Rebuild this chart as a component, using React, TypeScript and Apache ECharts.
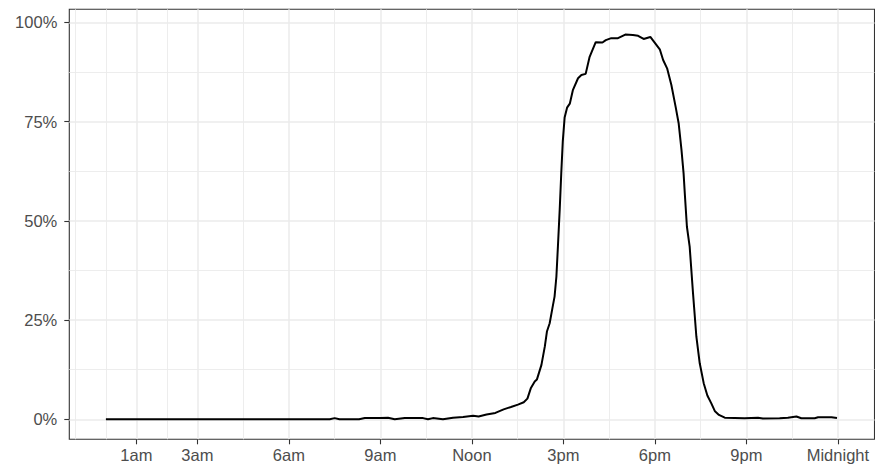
import * as echarts from "echarts";
import { useEffect, useRef } from "react";

// hour of day (0 = midnight) and share of the maximum (0..1)
const hours = [
  0, 3, 6, 7.34, 7.5, 7.66, 8.3, 8.49, 9.0, 9.25, 9.47, 9.8, 10.4, 10.56, 10.72,
  11.05, 11.38, 11.71, 12.04, 12.22, 12.48, 12.77, 13.04, 13.28, 13.51, 13.7,
  13.82, 13.93, 14.06, 14.13, 14.28, 14.39, 14.46, 14.55, 14.64, 14.71, 14.77,
  14.82, 14.88, 14.93, 14.98, 15.04, 15.12, 15.21, 15.31, 15.48, 15.59, 15.73,
  15.86, 16.06, 16.28, 16.39, 16.57, 16.79, 17.03, 17.28, 17.45, 17.63, 17.85,
  18.03, 18.16, 18.27, 18.4, 18.54, 18.68, 18.78, 18.87, 18.94, 18.98, 19.05,
  19.14, 19.25, 19.36, 19.47, 19.6, 19.72, 19.85, 19.97, 20.1, 20.29, 20.94,
  21.38, 21.54, 22.09, 22.36, 22.64, 22.8, 23.24, 23.35, 23.79, 23.97,
];
const shares = [
  0, 0, 0, 0, 0.003, 0, 0, 0.003, 0.003, 0.004, 0, 0.003, 0.003, 0, 0.003,
  0, 0.004, 0.006, 0.009, 0.007, 0.012, 0.016, 0.025, 0.031, 0.037, 0.043,
  0.052, 0.078, 0.095, 0.1, 0.137, 0.183, 0.221, 0.242, 0.28, 0.309, 0.359,
  0.435, 0.53, 0.62, 0.7, 0.76, 0.785, 0.795, 0.829, 0.859, 0.867, 0.87,
  0.913, 0.95, 0.949, 0.955, 0.96, 0.96, 0.969, 0.968, 0.966, 0.958, 0.963,
  0.945, 0.932, 0.905, 0.884, 0.842, 0.787, 0.745, 0.68, 0.62, 0.569, 0.485,
  0.435, 0.317, 0.208, 0.141, 0.091, 0.06, 0.04, 0.02, 0.011, 0.004, 0.0025,
  0.004, 0.002, 0.0025, 0.004, 0.007, 0.0025, 0.0025, 0.005, 0.005, 0.003,
];

const xBreaks = [1, 3, 6, 9, 12, 15, 18, 21, 24];
const xLabels = ["1am", "3am", "6am", "9am", "Noon", "3pm", "6pm", "9pm", "Midnight"];
const xMinor = [-1, 0, 2, 4.5, 7.5, 10.5, 13.5, 16.5, 19.5, 22.5];
const yBreaks = [0, 0.25, 0.5, 0.75, 1];
const yMinor = [0.125, 0.375, 0.625, 0.875];

const FONT = "'Liberation Sans', Arial, Helvetica, sans-serif";
const GRID = "#EBEBEB";
const INK = "#333333";

export default function App() {
  const ref = useRef<HTMLDivElement | null>(null);

  useEffect(() => {
    if (!ref.current) {
      return;
    }

    const chart = echarts.init(ref.current, undefined, { renderer: "svg" });
    const hidden = {
      axisLine: { show: false, onZero: false },
      axisLabel: { show: false },
    };
    chart.setOption({
      animation: false,
      backgroundColor: "#ffffff",
      textStyle: { fontFamily: FONT },
      grid: {
        left: 69.3,
        right: 0.5,
        top: 9.3,
        bottom: 27.7,
        show: true,
        borderColor: INK,
        borderWidth: 1.1,
        backgroundColor: "transparent",
      },
      xAxis: [
        {
          type: "value",
          min: -1.2,
          max: 25.2,
          axisLine: { show: false, onZero: false },
          axisTick: {
            show: true,
            customValues: xBreaks,
            length: 5,
            lineStyle: { color: INK, width: 1.1 },
          },
          axisLabel: {
            customValues: xBreaks,
            margin: 7,
            color: "#4D4D4D",
            fontSize: 16.5,
            fontFamily: FONT,
            formatter: (v: number) => xLabels[xBreaks.indexOf(v)] ?? "",
          },
          splitLine: { show: true, lineStyle: { color: GRID, width: 1.5 } },
        },
        {
          type: "value",
          min: -1.2,
          max: 25.2,
          position: "bottom",
          ...hidden,
          axisTick: { show: false, customValues: xMinor },
          splitLine: { show: true, lineStyle: { color: GRID, width: 0.9 } },
        },
      ],
      yAxis: [
        {
          type: "value",
          min: -0.0504,
          max: 1.0327,
          axisLine: { show: false, onZero: false },
          axisTick: {
            show: true,
            customValues: yBreaks,
            length: 5,
            lineStyle: { color: INK, width: 1.1 },
          },
          axisLabel: {
            customValues: yBreaks,
            margin: 12,
            color: "#4D4D4D",
            fontSize: 16.5,
            fontFamily: FONT,
            formatter: (v: number) => `${Math.round(v * 100)}%`,
          },
          splitLine: { show: true, lineStyle: { color: GRID, width: 1.5 } },
        },
        {
          type: "value",
          min: -0.0504,
          max: 1.0327,
          position: "left",
          ...hidden,
          axisTick: { show: false, customValues: yMinor },
          splitLine: { show: true, lineStyle: { color: GRID, width: 0.9 } },
        },
      ],
      series: [
        {
          type: "line",
          xAxisIndex: 0,
          yAxisIndex: 0,
          showSymbol: false,
          symbol: "none",
          lineStyle: { color: "#000000", width: 2 },
          data: hours.map((h, i) => [h, shares[i]]),
        },
      ],
    });

    return () => {
      chart.dispose();
    };
  }, []);

  return (
    <div
      ref={ref}
      style={{ position: "fixed", left: 0, top: 0, width: 875, height: 467, background: "#fff" }}
    />
  );
}
